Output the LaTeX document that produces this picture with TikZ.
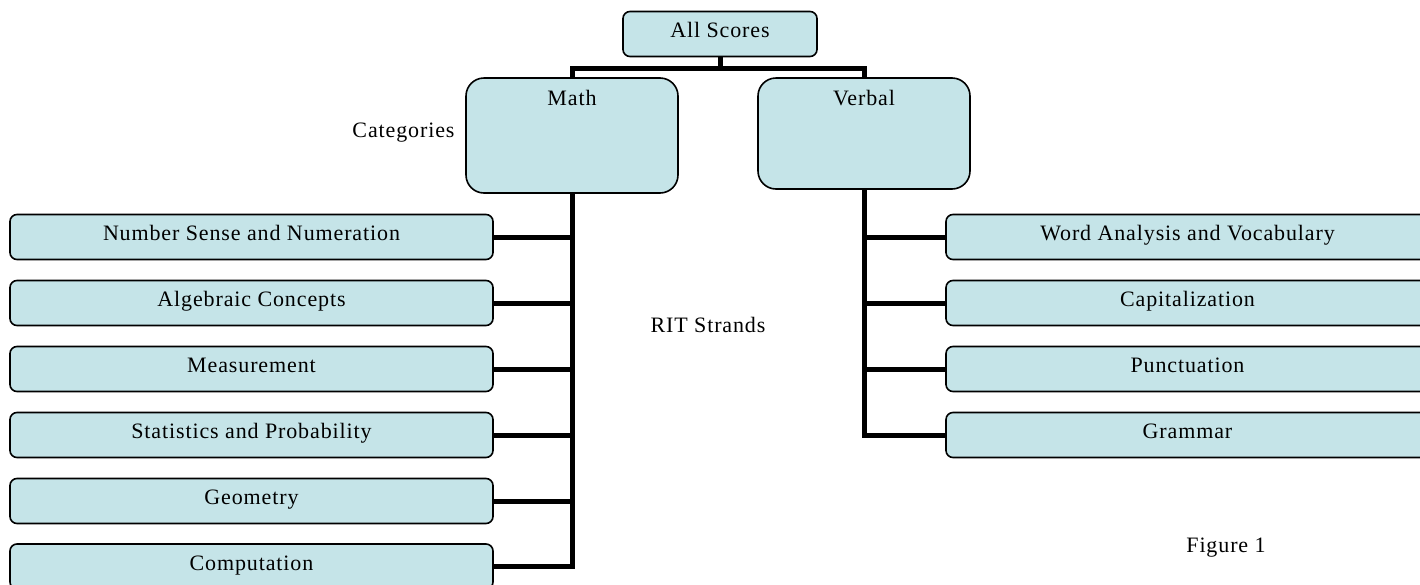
\documentclass[tikz,border=0pt]{standalone}
\usepackage{fontspec}
\setmainfont{Liberation Serif}[LetterSpace=4]
\usetikzlibrary{calc}
\definecolor{boxfill}{RGB}{197,228,232}
\tikzset{
	scorebox/.style={draw, line width=1.6pt, fill=boxfill, rounded corners=7pt, inner sep=0pt, text height=13pt, text depth=6pt},
	strandbox/.style={scorebox, minimum width=483pt, minimum height=45pt},
	catbox/.style={scorebox, rounded corners=18pt, minimum width=212pt},
	link/.style={line width=5pt, line join=miter},
}
\newcommand{\strand}[4] % name, x centre, y centre, text
{
	\node[strandbox] (#1) at (#2,#3) {#4};
}

\begin{document}
\begin{tikzpicture}[x=1pt, y=-1pt, font=\fontsize{22pt}{26pt}\selectfont]
	% units are pixels, y grows downward
	\useasboundingbox (0,0) rectangle (1420,584);

	% root and the two categories
	\node[scorebox, minimum width=194pt, minimum height=45pt] (all) at (720,34) {All Scores};
	\node[catbox, minimum height=115pt, label={[anchor=base, yshift=-28pt]north:Math}] (math) at (572,135.5) {};
	\node[catbox, minimum height=111pt, label={[anchor=base, yshift=-28pt]north:Verbal}] (verbal) at (864,133.5) {};
	\node[anchor=base east] (catlabel) at (458,137) {Categories};

	% math strands
	\strand{nss}{251.5}{237}{Number Sense and Numeration};
	\strand{alg}{251.5}{303}{Algebraic Concepts};
	\strand{meas}{251.5}{369}{Measurement};
	\strand{stat}{251.5}{435}{Statistics and Probability};
	\strand{geom}{251.5}{501}{Geometry};
	\strand{comp}{251.5}{566.5}{Computation};

	% verbal strands
	\strand{wav}{1187.5}{237}{Word Analysis and Vocabulary};
	\strand{cap}{1187.5}{303}{Capitalization};
	\strand{punc}{1187.5}{369}{Punctuation};
	\strand{gram}{1187.5}{435}{Grammar};

	\node[anchor=base] (ritlabel) at (708,332) {RIT Strands};
	\node[anchor=base] (figlabel) at (1226,552) {Figure 1};

	% tree lines
	\coordinate (split) at (720,68);
	\draw[link] (all.south) -- (split);
	\draw[link] (math.north) |- (split) -| (verbal.north);

	\draw[link] (math.south) |- (comp.east);
	\draw[link] (nss.east) -- (nss.east -| math.south);
	\draw[link] (alg.east) -- (alg.east -| math.south);
	\draw[link] (meas.east) -- (meas.east -| math.south);
	\draw[link] (stat.east) -- (stat.east -| math.south);
	\draw[link] (geom.east) -- (geom.east -| math.south);

	\draw[link] (verbal.south) |- (gram.west);
	\draw[link] (wav.west) -- (wav.west -| verbal.south);
	\draw[link] (cap.west) -- (cap.west -| verbal.south);
	\draw[link] (punc.west) -- (punc.west -| verbal.south);
\end{tikzpicture}
\end{document}
